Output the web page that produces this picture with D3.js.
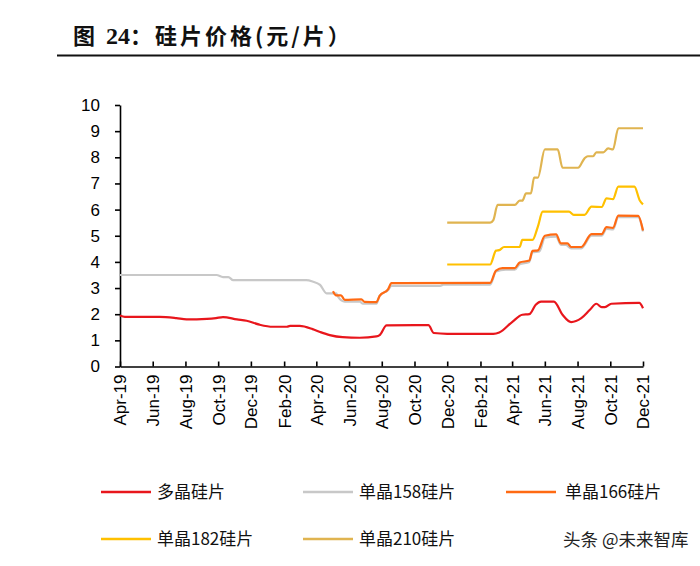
<!DOCTYPE html>
<html>
<head>
<meta charset="utf-8">
<script src="https://cdn.jsdelivr.net/npm/d3@7"></script>
<style>
  body { margin: 0; background: #fff; }
  svg { display: block; }
</style>
</head>
<body>
<script>
// 多晶硅片
var polyDates = ["2019-04-01","2019-04-10","2019-06-14","2019-07-15","2019-08-03","2019-09-10","2019-09-27","2019-10-10","2019-11-05","2019-11-23","2019-12-17","2020-01-11","2020-02-06","2020-02-12","2020-03-01","2020-03-25","2020-04-08","2020-04-26","2020-05-20","2020-06-21","2020-07-22","2020-07-28","2020-08-10","2020-10-27","2020-11-06","2020-12-01","2021-02-25","2021-03-08","2021-04-02","2021-04-20","2021-05-03","2021-05-15","2021-05-25","2021-06-18","2021-07-04","2021-07-20","2021-08-08","2021-08-24","2021-09-05","2021-09-15","2021-09-21","2021-10-03","2021-11-24","2021-12-01"];
var polyVals = [1.95,1.9,1.9,1.85,1.8,1.82,1.85,1.89,1.8,1.75,1.6,1.52,1.52,1.55,1.55,1.43,1.32,1.2,1.12,1.1,1.15,1.2,1.57,1.58,1.28,1.25,1.25,1.3,1.72,1.98,2.0,2.36,2.48,2.48,1.98,1.7,1.85,2.17,2.4,2.27,2.27,2.4,2.43,2.23];

// 单晶158硅片
var m158Dates = ["2019-04-01","2019-09-28","2019-10-10","2019-10-20","2019-10-29","2020-03-13","2020-03-25","2020-04-08","2020-04-20","2020-05-08","2020-05-11","2020-05-24","2020-06-21","2020-06-27","2020-07-22","2020-07-28","2020-08-13","2020-08-19","2020-11-18","2020-11-24","2021-02-19","2021-03-02","2021-03-20","2021-04-06","2021-04-15","2021-05-03","2021-05-09","2021-05-22","2021-06-01","2021-06-22","2021-07-01","2021-07-10","2021-07-20","2021-08-08","2021-08-27","2021-09-15","2021-09-24","2021-10-06","2021-10-16","2021-11-22","2021-12-01"];
var m158Vals = [3.5,3.5,3.42,3.42,3.3,3.3,3.25,3.12,2.8,2.8,2.68,2.48,2.48,2.4,2.4,2.7,2.93,3.08,3.08,3.13,3.13,3.63,3.7,3.7,3.91,4.0,4.37,4.4,4.93,4.97,4.65,4.65,4.52,4.52,5.0,5.0,5.26,5.24,5.71,5.71,5.16];

// 单晶166硅片
var m166Dates = ["2020-05-02","2020-05-08","2020-05-17","2020-05-24","2020-06-24","2020-06-30","2020-07-22","2020-07-28","2020-08-13","2020-08-19","2021-02-19","2021-03-02","2021-03-14","2021-04-06","2021-04-15","2021-05-03","2021-05-09","2021-05-19","2021-06-01","2021-06-22","2021-07-01","2021-07-13","2021-07-20","2021-08-08","2021-08-27","2021-09-15","2021-09-24","2021-10-06","2021-10-16","2021-11-22","2021-12-01"];
var m166Vals = [2.88,2.72,2.72,2.55,2.57,2.47,2.46,2.7,2.96,3.19,3.2,3.67,3.76,3.76,3.98,4.05,4.42,4.44,5.0,5.05,4.71,4.71,4.57,4.57,5.06,5.06,5.33,5.3,5.77,5.76,5.2];

// 单晶182硅片
var m182Dates = ["2020-12-01","2021-02-19","2021-03-02","2021-03-08","2021-03-17","2021-04-15","2021-04-20","2021-05-09","2021-05-19","2021-05-28","2021-07-16","2021-07-25","2021-08-14","2021-08-27","2021-09-15","2021-09-24","2021-10-06","2021-10-16","2021-11-15","2021-11-25","2021-12-01"];
var m182Vals = [3.9,3.9,4.43,4.45,4.57,4.57,4.84,4.84,5.35,5.92,5.92,5.8,5.8,6.11,6.1,6.43,6.4,6.88,6.88,6.35,6.2];

// 单晶210硅片
var m210Dates = ["2020-12-01","2021-02-19","2021-02-25","2021-03-05","2021-04-06","2021-04-15","2021-04-20","2021-04-27","2021-05-06","2021-05-12","2021-05-19","2021-06-01","2021-06-25","2021-07-04","2021-08-02","2021-08-14","2021-08-20","2021-08-30","2021-09-05","2021-09-18","2021-09-27","2021-10-06","2021-10-16","2021-12-01"];
var m210Vals = [5.5,5.5,5.6,6.18,6.18,6.34,6.34,6.62,6.62,7.22,7.22,8.3,8.3,7.6,7.6,7.96,8.04,8.04,8.19,8.19,8.34,8.3,9.11,9.11];

var seriesNames = ["多晶硅片","单晶158硅片","单晶166硅片","单晶182硅片","单晶210硅片"];
var seriesColors = ["#e8161c","#c8c8c8","#ff6a13","#ffc000","#e0b450"];
var yTicks = [0,1,2,3,4,5,6,7,8,9,10];
var xTickMonths = ["2019-04","2019-06","2019-08","2019-10","2019-12","2020-02","2020-04","2020-06","2020-08","2020-10","2020-12","2021-02","2021-04","2021-06","2021-08","2021-10","2021-12"];

var width = 700, height = 566;
var parse = d3.timeParse("%Y-%m-%d");
var parseMonth = d3.timeParse("%Y-%m");

function zip(dates, vals) {
  return dates.map(function(d, i) { return { date: parse(d), value: vals[i] }; });
}
var series = [
  zip(polyDates, polyVals),
  zip(m158Dates, m158Vals),
  zip(m166Dates, m166Vals),
  zip(m182Dates, m182Vals),
  zip(m210Dates, m210Vals)
];
// draw order: grey underneath orange
var drawOrder = [1, 0, 2, 3, 4];

var svg = d3.select("body").append("svg")
  .attr("width", width)
  .attr("height", height);

// title
var title = svg.append("text")
  .attr("x", 73)
  .attr("y", 44)
  .attr("font-family", "'Noto Sans CJK SC', sans-serif")
  .attr("font-weight", "bold")
  .attr("font-size", "22px")
  .attr("letter-spacing", "3px")
  .attr("fill", "#111");
title.append("tspan").text("图 ");
title.append("tspan")
  .attr("font-family", "'Liberation Serif', serif")
  .attr("font-size", "24px")
  .attr("letter-spacing", "0px")
  .text("24");
title.append("tspan").text("：硅片价格(元/片）");
svg.append("line")
  .attr("x1", 57).attr("x2", 700)
  .attr("y1", 55.5).attr("y2", 55.5)
  .attr("stroke", "#111")
  .attr("stroke-width", 2);

var x = d3.scaleTime()
  .domain([parseMonth("2019-04"), parseMonth("2021-12")])
  .range([120, 643]);
var y = d3.scaleLinear()
  .domain([0, 10])
  .range([366.5, 105]);

// y axis
var yAxis = svg.append("g")
  .attr("transform", "translate(120,0)")
  .call(d3.axisLeft(y).tickValues(yTicks).tickSize(5).tickPadding(15).tickSizeOuter(0));
yAxis.selectAll("text")
  .attr("font-family", "Arial, 'Liberation Sans', sans-serif")
  .attr("font-size", "17px")
  .attr("fill", "#000");

// x axis
var xAxis = svg.append("g")
  .attr("transform", "translate(0," + y(0) + ")")
  .call(d3.axisBottom(x)
    .tickValues(xTickMonths.map(parseMonth))
    .tickFormat(d3.timeFormat("%b-%y"))
    .tickSize(-5).tickSizeOuter(0).tickPadding(8));
xAxis.selectAll("text")
  .attr("font-family", "Arial, 'Liberation Sans', sans-serif")
  .attr("font-size", "17px")
  .attr("fill", "#000")
  .attr("transform", "rotate(-90)")
  .attr("text-anchor", "end")
  .attr("x", -8)
  .attr("y", 0)
  .attr("dy", "0.35em");

svg.selectAll(".domain, .tick line")
  .attr("stroke", "#000")
  .attr("stroke-width", 1.6);

var line = d3.line()
  .x(function(d) { return x(d.date); })
  .y(function(d) { return y(d.value); })
  .curve(d3.curveMonotoneX);

svg.append("g").selectAll("path")
  .data(drawOrder)
  .enter()
  .append("path")
  .attr("d", function(i) { return line(series[i]); })
  .attr("fill", "none")
  .attr("stroke", function(i) { return seriesColors[i]; })
  .attr("stroke-width", 2.2)
  .attr("stroke-linejoin", "round");

// legend
var legendPos = [[101, 492], [303, 492], [506, 492], [101, 539], [303, 539]];
var legend = svg.append("g").selectAll("g")
  .data(seriesNames)
  .enter()
  .append("g")
  .attr("transform", function(d, i) { return "translate(" + legendPos[i][0] + "," + legendPos[i][1] + ")"; });
legend.append("line")
  .attr("x1", 0).attr("x2", 50)
  .attr("stroke", function(d, i) { return seriesColors[i]; })
  .attr("stroke-width", 2.4);
legend.append("text")
  .attr("x", function(d, i) { return i === 2 ? 59 : 56; })
  .attr("dy", "0.35em")
  .attr("font-family", "'Noto Sans CJK SC', sans-serif")
  .attr("font-size", "17px")
  .attr("fill", "#111")
  .text(function(d) { return d; });

// watermark
svg.append("text")
  .attr("x", 563)
  .attr("y", 540)
  .attr("dy", "0.35em")
  .attr("font-family", "'Noto Sans CJK SC', sans-serif")
  .attr("font-size", "17.5px")
  .attr("fill", "#222")
  .text("头条 @未来智库");
</script>
</body>
</html>
